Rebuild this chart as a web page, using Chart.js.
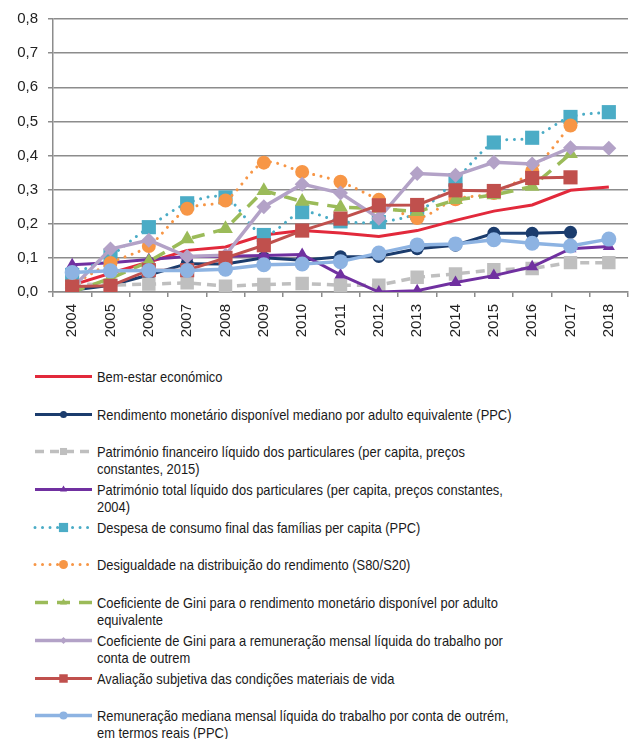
<!DOCTYPE html>
<html>
<head>
<meta charset="utf-8">
<script src="https://cdn.jsdelivr.net/npm/chart.js@4"></script>
<style>
  html, body { margin: 0; padding: 0; overflow: hidden; background: #fff; }
  #wrap { position: absolute; left: 0; top: 0; width: 638px; height: 350px; }
  #legend { position: absolute; left: 0; top: 368px; font-family: "Liberation Sans", Arial, sans-serif; font-size: 15px; line-height: 17px; color: #1a1a1a; }
  .item { position: relative; height: 37.7px; }
  .item canvas { position: absolute; left: 33px; top: 0; }
  .item .txt { position: absolute; left: 97px; top: 0; white-space: nowrap; transform-origin: 0 0; transform: scaleX(0.86); }
</style>
</head>
<body>
<div id="wrap"><canvas id="chart" width="638" height="350"></canvas></div>
<div id="legend"></div>
<script>
const years = ["2004", "2005", "2006", "2007", "2008", "2009", "2010", "2011", "2012", "2013", "2014", "2015", "2016", "2017", "2018"];

const bemEstar = [0.02, 0.055, 0.088, 0.122, 0.132, 0.167, 0.18, 0.173, 0.163, 0.18, 0.21, 0.237, 0.255, 0.298, 0.308];
const rendMediano = [0.005, 0.02, 0.05, 0.083, 0.082, 0.1, 0.093, 0.103, 0.104, 0.127, 0.137, 0.172, 0.172, 0.175, null];
const patrFinanceiro = [0.025, 0.02, 0.023, 0.027, 0.017, 0.022, 0.025, 0.02, 0.02, 0.043, 0.053, 0.065, 0.069, 0.086, 0.086];
const patrTotal = [0.08, 0.086, 0.095, 0.104, 0.105, 0.107, 0.11, 0.05, 0.0, 0.004, 0.028, 0.048, 0.074, 0.127, 0.133];
const despesaConsumo = [0.05, 0.106, 0.19, 0.26, 0.277, 0.167, 0.234, 0.207, 0.205, 0.232, 0.328, 0.438, 0.452, 0.513, 0.527];
const desigualdade = [0.02, 0.085, 0.135, 0.244, 0.268, 0.379, 0.352, 0.323, 0.27, 0.217, 0.272, 0.29, 0.355, 0.488, null];
const giniRendimento = [0.0, 0.04, 0.089, 0.155, 0.185, 0.297, 0.265, 0.248, 0.245, 0.235, 0.27, 0.284, 0.309, 0.405, null];
const giniRemuneracao = [0.012, 0.126, 0.152, 0.104, 0.108, 0.25, 0.316, 0.29, 0.216, 0.347, 0.342, 0.38, 0.375, 0.423, 0.421];
const avaliacaoSubjetiva = [0.016, 0.018, 0.064, 0.064, 0.1, 0.137, 0.18, 0.215, 0.254, 0.255, 0.298, 0.296, 0.334, 0.336, null];
const remuneracaoMediana = [0.057, 0.062, 0.063, 0.063, 0.067, 0.08, 0.082, 0.089, 0.114, 0.138, 0.141, 0.153, 0.143, 0.135, 0.155];

const legendLabels = [
  ["Bem-estar económico"],
  ["Rendimento monetário disponível mediano por adulto equivalente (PPC)"],
  ["Património financeiro líquido dos particulares (per capita, preços", "constantes, 2015)"],
  ["Património total líquido dos particulares (per capita, preços constantes,", "2004)"],
  ["Despesa de consumo final das famílias per capita (PPC)"],
  ["Desigualdade na distribuição do rendimento (S80/S20)"],
  ["Coeficiente de Gini para o rendimento monetário disponível por adulto", "equivalente"],
  ["Coeficiente de Gini para a remuneração mensal líquida do trabalho por", "conta de outrem"],
  ["Avaliação subjetiva das condições materiais de vida"],
  ["Remuneração mediana mensal líquida do trabalho por conta de outrém,", "em termos reais (PPC)"]
];

function series(data, color, width, dash, style, radius, legendRadius, tension) {
  return {
    data, borderColor: color, backgroundColor: color, borderWidth: width,
    borderDash: dash, borderCapStyle: dash.length && dash[0] < 1 ? "round" : "butt",
    pointStyle: style, pointRadius: radius, pointBorderWidth: 0,
    pointBackgroundColor: color, legendRadius, tension: tension || 0, spanGaps: false
  };
}

const datasets = [
  series(bemEstar, "#e2293b", 3, [], false, 0, 0),
  series(rendMediano, "#1b3c6d", 3, [], "circle", 6.5, 3.5),
  series(patrFinanceiro, "#bfbfbf", 3.5, [9, 6], "rect", 9.5, 5),
  series(patrTotal, "#7030a0", 3, [], "triangle", 7, 4),
  series(despesaConsumo, "#4bacc6", 3, [0.01, 7.5], "rect", 10, 6.5, 0.3),
  series(desigualdade, "#f79646", 3, [0.01, 7.5], "circle", 7, 4.5, 0.3),
  series(giniRendimento, "#9bbb59", 3.5, [13, 9], "triangle", 8.5, 4),
  series(giniRemuneracao, "#b3a2c7", 3.5, [], "rectRot", 7.5, 3.5),
  series(avaliacaoSubjetiva, "#c0504d", 3, [], "rect", 10, 6),
  series(remuneracaoMediana, "#8db3e2", 3.5, [], "circle", 7.5, 4)
];
datasets.forEach((d, i) => { d.label = legendLabels[i].join(" "); d.order = datasets.length - i; });

const gridColor = "#8c8c8c";
const tickFont = { family: "'Liberation Sans', Arial, sans-serif", size: 15 };

new Chart(document.getElementById("chart"), {
  type: "line",
  data: { labels: years, datasets },
  options: {
    responsive: false,
    animation: false,
    layout: { padding: { top: 19, right: 0, bottom: 0, left: 0 } },
    plugins: { legend: { display: false }, tooltip: { enabled: false } },
    scales: {
      x: {
        offset: true,
        afterFit: s => { s.height = 58; },
        grid: { display: true, drawOnChartArea: false, offset: true, tickLength: 5, color: gridColor, lineWidth: 1.5 },
        border: { display: true, color: gridColor, width: 1.5 },
        ticks: { minRotation: 90, maxRotation: 90, padding: 7, color: "#222", font: tickFont, autoSkip: false }
      },
      y: {
        min: 0, max: 0.8,
        afterFit: s => { s.width = 53; },
        grid: { color: gridColor, lineWidth: 1.5, tickLength: 5 },
        border: { display: true, color: gridColor, width: 1.5 },
        ticks: { stepSize: 0.1, padding: 10, color: "#222", font: tickFont,
          callback: v => v.toFixed(1).replace(".", ",") }
      }
    }
  }
});

// legend built from the same datasets
const legend = document.getElementById("legend");
datasets.forEach((d, i) => {
  const item = document.createElement("div");
  item.className = "item";
  const c = document.createElement("canvas");
  c.width = 62; c.height = 17;
  const g = c.getContext("2d");
  g.strokeStyle = d.borderColor;
  g.lineWidth = d.borderWidth;
  g.lineCap = d.borderCapStyle;
  g.setLineDash(d.borderDash);
  g.beginPath(); g.moveTo(2, 8.5); g.lineTo(59, 8.5); g.stroke();
  g.setLineDash([]);
  if (d.pointStyle) {
    g.fillStyle = d.borderColor;
    Chart.helpers.drawPoint(g, { pointStyle: d.pointStyle, radius: d.legendRadius, borderWidth: 0, rotation: 0 }, 30.5, 8.5);
  }
  item.appendChild(c);
  const t = document.createElement("div");
  t.className = "txt";
  t.innerHTML = legendLabels[i].join("<br>");
  item.appendChild(t);
  legend.appendChild(item);
});
</script>
</body>
</html>
